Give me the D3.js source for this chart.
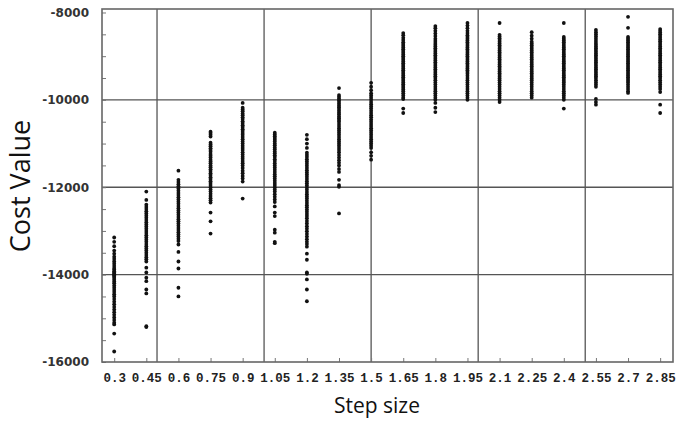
<!DOCTYPE html>
<html>
<head>
<meta charset="utf-8">
<script src="https://cdn.jsdelivr.net/npm/d3@7"></script>
<style>
  body { margin: 0; background: #fff; }
  svg { display: block; }
</style>
</head>
<body>
<script>
var width = 679;
var height = 424;

// step sizes (x categories) and their tick labels
var steps = [0.3, 0.45, 0.6, 0.75, 0.9, 1.05, 1.2, 1.35, 1.5, 1.65, 1.8, 1.95, 2.1, 2.25, 2.4, 2.55, 2.7, 2.85];
var stepLabels = ["0.3", "0.45", "0.6", "0.75", "0.9", "1.05", "1.2", "1.35", "1.5", "1.65", "1.8", "1.95", "2.1", "2.25", "2.4", "2.55", "2.7", "2.85"];
var costTicks = [-8000, -10000, -12000, -14000, -16000];
var gridSteps = [0.5, 1.0, 1.5, 2.0, 2.5];
var gridCosts = [-10000, -12000, -14000];

// cost values, one array per step size
var cost030 = [-13150, -13250, -13350, -13450, -13520, -13590, -13640, -13700, -13750, -13800, -13850, -13880, -13920, -13950, -13980, -14000, -14020, -14050, -14080, -14120, -14160, -14200, -14250, -14300, -14350, -14400, -14450, -14500, -14560, -14620, -14680, -14740, -14800, -14860, -14920, -14980, -15040, -15100, -15140, -15350, -15760];
var cost045 = [-12100, -12290, -12400, -12450, -12500, -12550, -12600, -12650, -12700, -12750, -12800, -12850, -12900, -12950, -13000, -13050, -13100, -13150, -13200, -13250, -13300, -13350, -13400, -13450, -13500, -13550, -13600, -13650, -13700, -13840, -13950, -14070, -14150, -14340, -14430, -15180, -15200];
var cost060 = [-11620, -11830, -11880, -11930, -11980, -12030, -12080, -12130, -12180, -12230, -12280, -12330, -12380, -12430, -12480, -12530, -12580, -12630, -12680, -12730, -12780, -12830, -12880, -12930, -12980, -13030, -13080, -13130, -13180, -13230, -13310, -13480, -13700, -13860, -14300, -14500];
var cost075 = [-10730, -10760, -10800, -10840, -10980, -11020, -11060, -11110, -11150, -11190, -11240, -11280, -11320, -11370, -11410, -11450, -11500, -11540, -11590, -11630, -11680, -11720, -11770, -11810, -11860, -11900, -11950, -12000, -12050, -12100, -12150, -12200, -12250, -12300, -12350, -12580, -12780, -13060];
var cost090 = [-10070, -10180, -10220, -10260, -10310, -10350, -10400, -10440, -10490, -10530, -10580, -10620, -10670, -10710, -10760, -10800, -10850, -10900, -10950, -11000, -11050, -11100, -11150, -11200, -11250, -11300, -11350, -11400, -11450, -11500, -11560, -11620, -11680, -11740, -11800, -11870, -12260];
var cost105 = [-10750, -10790, -10830, -10870, -10910, -10950, -11000, -11040, -11090, -11130, -11180, -11220, -11270, -11310, -11360, -11400, -11450, -11500, -11550, -11600, -11650, -11700, -11750, -11800, -11850, -11900, -11950, -12000, -12050, -12100, -12160, -12220, -12280, -12340, -12440, -12580, -12660, -12970, -13040, -13250, -13280];
var cost120 = [-10800, -10900, -11000, -11100, -11210, -11260, -11310, -11360, -11410, -11460, -11510, -11560, -11610, -11660, -11710, -11760, -11810, -11860, -11910, -11960, -12010, -12060, -12110, -12160, -12210, -12260, -12310, -12360, -12410, -12460, -12510, -12560, -12610, -12660, -12710, -12770, -12830, -12890, -12950, -13010, -13070, -13130, -13190, -13250, -13300, -13360, -13520, -13660, -13950, -13980, -14110, -14340, -14610];
var cost135 = [-9730, -9890, -9930, -9970, -10010, -10050, -10090, -10130, -10170, -10210, -10250, -10290, -10330, -10380, -10420, -10460, -10500, -10550, -10600, -10650, -10700, -10750, -10800, -10850, -10900, -10950, -11000, -11050, -11100, -11150, -11200, -11260, -11320, -11380, -11440, -11500, -11580, -11650, -11830, -11950, -11990, -12600];
var cost150 = [-9610, -9700, -9780, -9850, -9900, -9950, -10000, -10050, -10100, -10150, -10200, -10250, -10300, -10350, -10400, -10450, -10500, -10550, -10600, -10650, -10700, -10750, -10800, -10850, -10900, -10950, -11000, -11050, -11100, -11200, -11280, -11370];
var cost165 = [-8470, -8520, -8580, -8630, -8680, -8720, -8760, -8800, -8840, -8880, -8920, -8960, -9000, -9040, -9080, -9120, -9160, -9200, -9240, -9280, -9320, -9360, -9400, -9440, -9480, -9520, -9560, -9600, -9640, -9680, -9720, -9760, -9800, -9850, -9900, -9950, -9980, -10200, -10300];
var cost180 = [-8310, -8360, -8420, -8480, -8540, -8600, -8650, -8700, -8740, -8780, -8820, -8860, -8900, -8940, -8980, -9020, -9060, -9100, -9140, -9180, -9220, -9260, -9300, -9340, -9380, -9420, -9460, -9500, -9550, -9600, -9650, -9700, -9750, -9800, -9850, -9900, -9950, -10000, -10070, -10180, -10280];
var cost195 = [-8240, -8300, -8360, -8420, -8470, -8520, -8560, -8600, -8640, -8680, -8720, -8760, -8800, -8840, -8880, -8920, -8960, -9000, -9040, -9080, -9120, -9160, -9200, -9240, -9280, -9320, -9360, -9400, -9450, -9500, -9550, -9600, -9650, -9700, -9750, -9800, -9850, -9900, -9950, -10000];
var cost210 = [-8240, -8510, -8550, -8590, -8630, -8670, -8710, -8750, -8790, -8830, -8870, -8910, -8950, -8990, -9030, -9070, -9110, -9150, -9190, -9230, -9270, -9310, -9350, -9390, -9430, -9470, -9510, -9550, -9600, -9650, -9700, -9750, -9800, -9850, -9900, -9950, -10000, -10050];
var cost225 = [-8450, -8530, -8600, -8670, -8710, -8750, -8790, -8830, -8870, -8910, -8950, -8990, -9030, -9070, -9110, -9150, -9190, -9230, -9270, -9310, -9350, -9390, -9430, -9470, -9510, -9550, -9600, -9650, -9700, -9750, -9800, -9850, -9900, -9950];
var cost240 = [-8240, -8560, -8600, -8640, -8680, -8720, -8760, -8800, -8840, -8880, -8920, -8960, -9000, -9040, -9080, -9120, -9160, -9200, -9240, -9280, -9320, -9360, -9400, -9440, -9480, -9520, -9560, -9600, -9650, -9700, -9750, -9800, -9850, -9900, -9950, -10000, -10200];
var cost255 = [-8400, -8450, -8500, -8550, -8600, -8650, -8700, -8740, -8780, -8820, -8860, -8900, -8940, -8980, -9020, -9060, -9100, -9140, -9180, -9220, -9260, -9300, -9340, -9380, -9420, -9460, -9500, -9550, -9600, -9650, -9700, -9980, -10050, -10110];
var cost270 = [-8100, -8350, -8560, -8600, -8640, -8680, -8720, -8760, -8800, -8840, -8880, -8920, -8960, -9000, -9040, -9080, -9120, -9160, -9200, -9240, -9280, -9320, -9360, -9400, -9440, -9480, -9520, -9560, -9600, -9650, -9700, -9750, -9800, -9840];
var cost285 = [-8380, -8420, -8460, -8500, -8540, -8580, -8620, -8660, -8700, -8740, -8780, -8820, -8860, -8900, -8940, -8980, -9020, -9060, -9100, -9140, -9180, -9220, -9260, -9300, -9340, -9380, -9420, -9460, -9500, -9550, -9600, -9650, -9700, -9750, -9820, -10110, -10300];

var costs = [cost030, cost045, cost060, cost075, cost090, cost105, cost120, cost135, cost150,
             cost165, cost180, cost195, cost210, cost225, cost240, cost255, cost270, cost285];

// flatten into points
var points = [];
steps.forEach((s, i) => costs[i].forEach(c => points.push({step: s, cost: c})));

var x = d3.scaleLinear().domain([0.243, 2.91]).range([102, 673]);
var y = d3.scaleLinear().domain([-16000, -7920]).range([362, 9]);

var svg = d3.select("body")
  .append("svg")
  .attr("width", width)
  .attr("height", height);

// grid lines
svg.append("g")
  .selectAll("line")
  .data(gridSteps)
  .enter()
  .append("line")
  .attr("x1", d => x(d))
  .attr("x2", d => x(d))
  .attr("y1", y.range()[0])
  .attr("y2", y.range()[1])
  .attr("stroke", "#555")
  .attr("stroke-width", 1.3);

svg.append("g")
  .selectAll("line")
  .data(gridCosts)
  .enter()
  .append("line")
  .attr("x1", x.range()[0])
  .attr("x2", x.range()[1])
  .attr("y1", d => y(d))
  .attr("y2", d => y(d))
  .attr("stroke", "#555")
  .attr("stroke-width", 1.3);

// left axis: minor ticks every 500, labels every 2000
var yAxis = d3.axisLeft(y)
  .tickValues(d3.range(-16000, -7999, 500))
  .tickSize(-4)
  .tickPadding(13)
  .tickFormat(d => costTicks.includes(d) ? String(d) : "");

var yg = svg.append("g")
  .attr("transform", "translate(" + x.range()[0] + ",0)")
  .call(yAxis);
yg.select(".domain").remove();
yg.selectAll("line").attr("stroke", "#777");
yg.selectAll("text")
  .attr("font-family", "'DejaVu Sans', sans-serif")
  .attr("font-weight", "bold")
  .attr("font-size", 12)
  .attr("fill", "#333");

// bottom axis: a tick at every step
var xAxis = d3.axisBottom(x)
  .tickValues(steps)
  .tickSize(-4)
  .tickPadding(11)
  .tickFormat((d, i) => stepLabels[i]);

var xg = svg.append("g")
  .attr("transform", "translate(0," + y.range()[0] + ")")
  .call(xAxis);
xg.select(".domain").remove();
xg.selectAll("line").attr("stroke", "#777");
xg.selectAll("text")
  .attr("font-family", "'Liberation Mono', monospace")
  .attr("font-weight", "bold")
  .attr("font-size", 12.5)
  .attr("fill", "#222");

// frame
svg.append("rect")
  .attr("x", x.range()[0])
  .attr("y", y.range()[1])
  .attr("width", x.range()[1] - x.range()[0])
  .attr("height", y.range()[0] - y.range()[1])
  .attr("fill", "none")
  .attr("stroke", "#666")
  .attr("stroke-width", 1.6);

// the points
svg.append("g")
  .selectAll("circle")
  .data(points)
  .enter()
  .append("circle")
  .attr("cx", d => x(d.step))
  .attr("cy", d => y(d.cost))
  .attr("r", 1.9)
  .attr("fill", "#111");

// axis titles
svg.append("text")
  .attr("x", 377)
  .attr("y", 413)
  .attr("text-anchor", "middle")
  .attr("font-family", "'Open Sans', sans-serif")
  .attr("font-size", 21)
  .attr("fill", "#111")
  .text("Step size");

svg.append("text")
  .attr("transform", "translate(30,186) rotate(-90)")
  .attr("text-anchor", "middle")
  .attr("font-family", "'Open Sans', sans-serif")
  .attr("font-size", 27)
  .attr("fill", "#111")
  .text("Cost Value");
</script>
</body>
</html>
